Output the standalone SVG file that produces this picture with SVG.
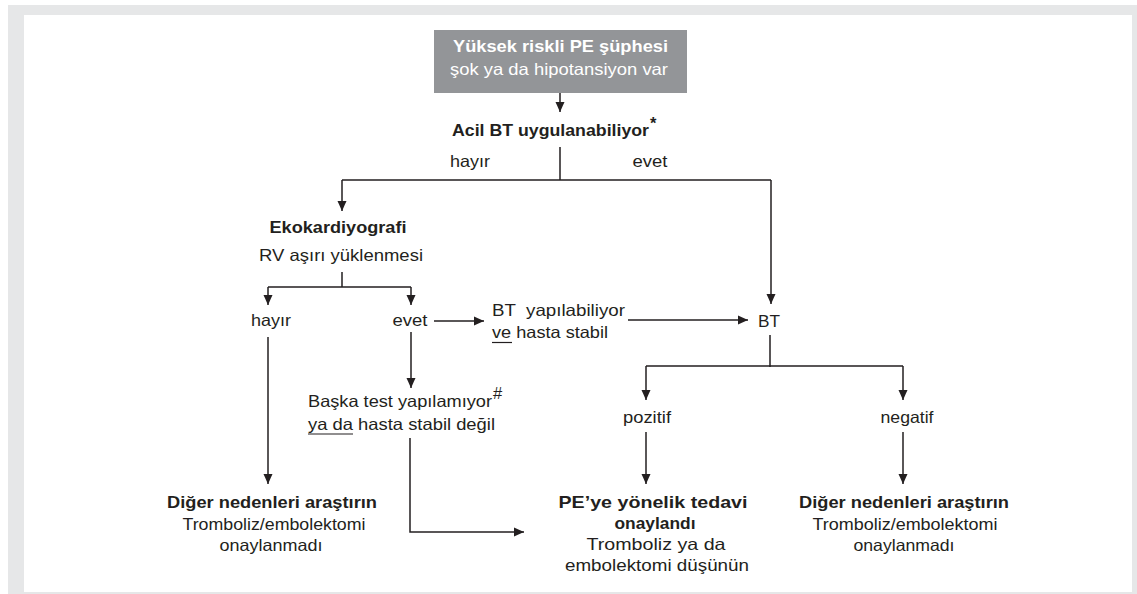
<svg xmlns="http://www.w3.org/2000/svg" width="1137" height="594" viewBox="0 0 1137 594">
<style>
text{font-family:"Liberation Sans",Arial,sans-serif;font-size:16.5px;fill:#231f20}
.b{font-weight:bold}
.w{fill:#ffffff}
.m{text-anchor:middle}
.ln{fill:none;stroke:#231f20;stroke-width:1.5}
.ar{fill:none;stroke:#231f20;stroke-width:1.5;marker-end:url(#ah)}
.ul{stroke:#231f20;stroke-width:1.2}
</style>
<defs>
<marker id="ah" markerUnits="userSpaceOnUse" markerWidth="10" markerHeight="10" refX="10" refY="5" orient="auto">
<path d="M0,0.5 L10,5 L0,9.5 z" fill="#231f20"/>
</marker>
</defs>
<rect x="0" y="0" width="1137" height="594" fill="#ffffff"/>
<rect x="8" y="5" width="1129" height="589" fill="#e6e7e8"/>
<rect x="24" y="15" width="1108" height="577" fill="#ffffff"/>

<g id="connectors">
<path class="ar" d="M560,93 V112"/>
<path class="ln" d="M560,147 V180 M342,180 H771"/>
<path class="ar" d="M342,180 V211"/>
<path class="ar" d="M771,180 V304"/>
<path class="ln" d="M342,272 V287 M268,287 H411"/>
<path class="ar" d="M268,287 V305"/>
<path class="ar" d="M411,287 V305"/>
<path class="ar" d="M268,337 V484"/>
<path class="ar" d="M411,332 V388"/>
<path class="ar" d="M434,321 H484"/>
<path class="ar" d="M628,320 H748"/>
<path class="ln" d="M770,335 V367 M646,366 H903"/>
<path class="ar" d="M646,366 V400"/>
<path class="ar" d="M903,366 V400"/>
<path class="ar" d="M646,432 V484"/>
<path class="ar" d="M903,432 V484"/>
<path class="ar" d="M410,438 V532 H524"/>
</g>

<g id="node-start">
<rect x="434" y="30" width="253" height="63" fill="#939598"/>
<text class="b w m" x="560.5" y="52" font-size="17" textLength="215" lengthAdjust="spacingAndGlyphs">Yüksek riskli PE şüphesi</text>
<text class="w m" x="559" y="75" font-size="17" textLength="218" lengthAdjust="spacingAndGlyphs">şok ya da hipotansiyon var</text>
</g>

<g id="node-acil">
<text class="b" x="452" y="136" textLength="197" lengthAdjust="spacingAndGlyphs">Acil BT uygulanabiliyor</text>
<text class="b" x="650" y="129" font-size="8">*</text>
</g>

<g id="label-hayir1"><text class="m" x="470" y="167" textLength="40" lengthAdjust="spacingAndGlyphs">hayır</text></g>
<g id="label-evet1"><text class="m" x="650" y="167" textLength="35" lengthAdjust="spacingAndGlyphs">evet</text></g>

<g id="node-eko">
<text class="b m" x="338" y="233" textLength="137" lengthAdjust="spacingAndGlyphs">Ekokardiyografi</text>
<text class="m" x="341" y="261" textLength="164" lengthAdjust="spacingAndGlyphs">RV aşırı yüklenmesi</text>
</g>

<g id="node-hayir2"><text class="m" x="271" y="326" textLength="40" lengthAdjust="spacingAndGlyphs">hayır</text></g>
<g id="node-evet2"><text class="m" x="410" y="326" textLength="35" lengthAdjust="spacingAndGlyphs">evet</text></g>

<g id="node-btyap">
<text x="492" y="316" textLength="133" lengthAdjust="spacingAndGlyphs" xml:space="preserve">BT  yapılabiliyor</text>
<text x="492" y="338" textLength="116" lengthAdjust="spacingAndGlyphs">ve hasta stabil</text>
<line class="ul" x1="492" y1="342.5" x2="512" y2="342.5"/>
</g>

<g id="node-bt"><text class="m" x="769" y="327" textLength="22" lengthAdjust="spacingAndGlyphs">BT</text></g>

<g id="node-baska">
<text x="308" y="407" textLength="184" lengthAdjust="spacingAndGlyphs">Başka test yapılamıyor</text>
<text x="493" y="399" font-size="7">#</text>
<text x="308" y="430" textLength="187" lengthAdjust="spacingAndGlyphs">ya da hasta stabil değil</text>
<line class="ul" x1="308" y1="434" x2="353" y2="434"/>
</g>

<g id="node-pozitif"><text class="m" x="647" y="423" textLength="48" lengthAdjust="spacingAndGlyphs">pozitif</text></g>
<g id="node-negatif"><text class="m" x="907" y="423" textLength="53" lengthAdjust="spacingAndGlyphs">negatif</text></g>

<g id="node-diger-left">
<text class="b m" x="272" y="508" textLength="210" lengthAdjust="spacingAndGlyphs">Diğer nedenleri araştırın</text>
<text class="m" x="274" y="530" textLength="183" lengthAdjust="spacingAndGlyphs">Tromboliz/embolektomi</text>
<text class="m" x="271" y="551" textLength="103" lengthAdjust="spacingAndGlyphs">onaylanmadı</text>
</g>

<g id="node-pe">
<text class="b m" x="653" y="508" textLength="189" lengthAdjust="spacingAndGlyphs">PE’ye yönelik tedavi</text>
<text class="b m" x="655" y="529" textLength="81" lengthAdjust="spacingAndGlyphs">onaylandı</text>
<text class="m" x="656" y="550" textLength="139" lengthAdjust="spacingAndGlyphs">Tromboliz ya da</text>
<text class="m" x="657" y="571" textLength="184" lengthAdjust="spacingAndGlyphs">embolektomi düşünün</text>
</g>

<g id="node-diger-right">
<text class="b m" x="904" y="508" textLength="210" lengthAdjust="spacingAndGlyphs">Diğer nedenleri araştırın</text>
<text class="m" x="905" y="530" textLength="185" lengthAdjust="spacingAndGlyphs">Tromboliz/embolektomi</text>
<text class="m" x="904" y="551" textLength="101" lengthAdjust="spacingAndGlyphs">onaylanmadı</text>
</g>
</svg>
